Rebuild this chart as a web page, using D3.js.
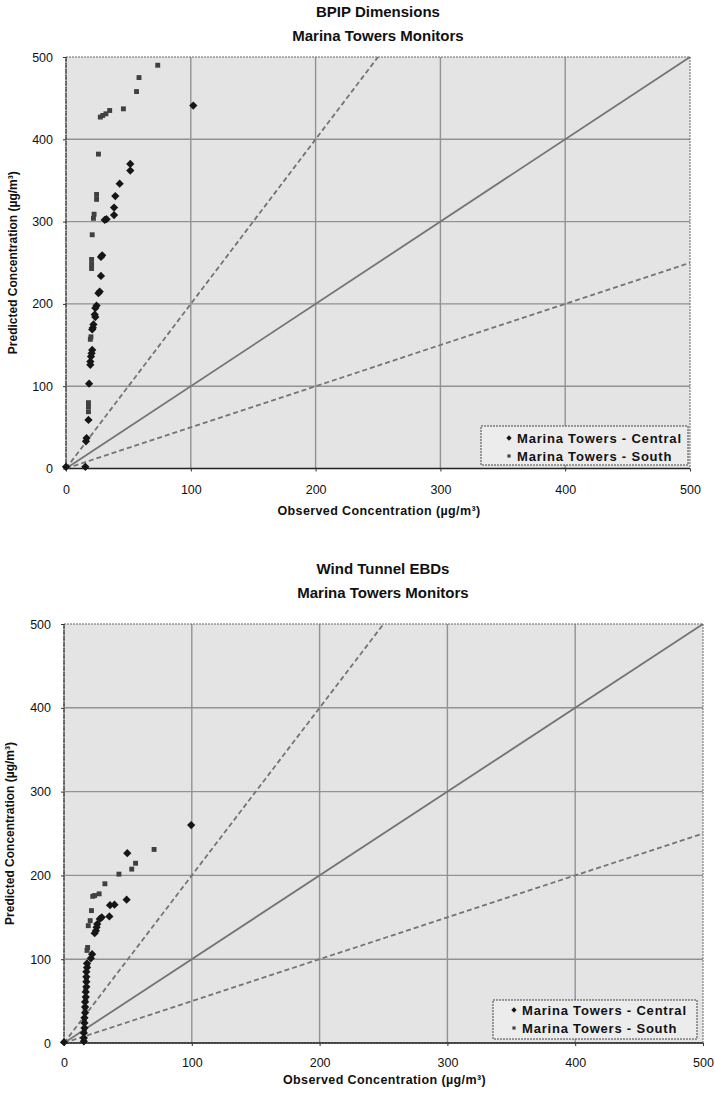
<!DOCTYPE html>
<html>
<head>
<meta charset="utf-8">
<script src="https://cdn.jsdelivr.net/npm/d3@7"></script>
<style>
  body { margin: 0; background: #fff; }
  svg { display: block; }
  text { font-family: "Liberation Sans", Arial, sans-serif; fill: #111; }
</style>
</head>
<body>
<svg id="chart" width="715" height="1093"></svg>
<script>
// Axis ticks shared by both panels (µg/m³)
const tickValues = [0, 100, 200, 300, 400, 500];
// Reference ratio lines: predicted = 2x, 1x and 0.5x observed
const ratioSlopes = [2, 1, 0.5];
const legendLabels = ["Marina Towers - Central", "Marina Towers - South"];

// BPIP dimensions: [observed, predicted]
const bpipCentral = [
  [102, 441], [51.5, 370], [51.5, 362], [43, 346], [39.5, 331], [38.5, 317], [38.5, 308],
  [31, 302], [32.5, 303], [29, 259], [28, 257], [28, 234], [27, 215], [26, 213],
  [24.5, 198], [23.5, 195], [23, 187], [23.5, 184], [22, 175], [21.5, 171], [21, 169],
  [21, 144], [20.5, 140], [20, 136], [19.5, 130], [19.5, 126], [18.5, 103], [18, 59],
  [16.5, 37], [16, 33], [15.5, 2], [0, 2]
];
const bpipSouth = [
  [73.5, 490], [58.5, 475], [56.5, 458], [46, 437], [35, 435], [32, 431], [29.5, 429],
  [27.5, 427], [26, 382], [24.5, 333], [24.5, 327], [22.5, 309], [22, 304], [21, 284],
  [20.5, 254], [20.5, 248], [20.5, 243], [20, 160], [19.5, 157], [18, 80], [18, 75], [18, 69]
];

// Wind tunnel EBDs: [observed, predicted]
const tunnelCentral = [
  [99.5, 260], [49.5, 226.5], [49, 171], [39.5, 165], [36, 164.5], [35.5, 151], [29.5, 150],
  [28, 148], [26, 142], [25.5, 138], [25, 134], [24, 131], [22, 106], [21, 101], [18, 95],
  [18, 90], [17.5, 85], [17.5, 79], [17.5, 73], [17.5, 67], [17, 61], [17, 55], [16.5, 49],
  [16.5, 43], [16.5, 36], [16, 30], [16, 24], [16, 18], [15.5, 12], [15.5, 6], [15.5, 2], [0, 1]
];
const tunnelSouth = [
  [70.5, 231], [56, 214.5], [53, 207.5], [43, 201.5], [32, 190], [27.5, 178], [24, 176],
  [22.5, 175], [21.5, 158], [20.5, 146], [19, 140], [18.5, 114], [18, 110.5], [18.5, 92],
  [17.5, 76], [17, 64], [17, 52], [16.5, 40], [16, 27], [16, 15], [15.5, 4]
];

const svg = d3.select("#chart");
// diamond = square turned by 45 degrees, so it is as wide as it is tall
const diamond = d3.symbol().type(d3.symbolSquare).size(34);
const square = d3.symbol().type(d3.symbolSquare).size(24);
const centralFill = "#161616";
const southFill = "#404040";

function drawPanel(p) {
  const x = d3.scaleLinear().domain([0, 500]).range([p.left, p.right]);
  const y = d3.scaleLinear().domain([0, 500]).range([p.bottom, p.top]);
  const g = svg.append("g");

  // titles
  p.title.forEach((t, i) => {
    g.append("text").attr("x", p.titleX).attr("y", p.titleY + i * 24)
      .attr("text-anchor", "middle").attr("font-size", 15).attr("font-weight", "bold").text(t);
  });

  // plot area
  g.append("rect").attr("x", p.left).attr("y", p.top)
    .attr("width", p.right - p.left).attr("height", p.bottom - p.top)
    .attr("fill", "#e4e4e4");

  // grid
  g.selectAll(".gx").data(tickValues.slice(1, -1)).join("line")
    .attr("x1", d => x(d)).attr("x2", d => x(d)).attr("y1", p.top).attr("y2", p.bottom)
    .attr("stroke", "#929292").attr("stroke-width", 1.4);
  g.selectAll(".gy").data(tickValues.slice(1, -1)).join("line")
    .attr("y1", d => y(d)).attr("y2", d => y(d)).attr("x1", p.left).attr("x2", p.right)
    .attr("stroke", "#929292").attr("stroke-width", 1.4);

  // border
  g.append("rect").attr("x", p.left).attr("y", p.top)
    .attr("width", p.right - p.left).attr("height", p.bottom - p.top)
    .attr("fill", "none").attr("stroke", "#666").attr("stroke-width", 1)
    .attr("stroke-dasharray", "2,1");
  g.append("line").attr("x1", p.left).attr("x2", p.right).attr("y1", p.bottom).attr("y2", p.bottom)
    .attr("stroke", "#222").attr("stroke-width", 1.3);
  g.append("line").attr("x1", p.left).attr("x2", p.left).attr("y1", p.top).attr("y2", p.bottom)
    .attr("stroke", "#333").attr("stroke-width", 1.2).attr("stroke-dasharray", "5,1");

  // ratio lines
  ratioSlopes.forEach(s => {
    const xe = Math.min(500, 500 / s);
    g.append("line").attr("x1", x(0)).attr("y1", y(0)).attr("x2", x(xe)).attr("y2", y(xe * s))
      .attr("stroke", "#747474").attr("stroke-width", 1.8)
      .attr("stroke-dasharray", s === 1 ? null : "5,3");
  });

  // axes
  const ax = g.append("g").attr("transform", `translate(0,${p.bottom})`)
    .call(d3.axisBottom(x).tickValues(tickValues).tickSize(3).tickPadding(p.xPad));
  const ay = g.append("g").attr("transform", `translate(${p.left},0)`)
    .call(d3.axisLeft(y).tickValues(tickValues).tickSize(3).tickPadding(10));
  [ax, ay].forEach(a => {
    a.select(".domain").remove();
    a.selectAll("line").attr("stroke", "#333");
    a.selectAll("text").attr("font-size", 12.5).attr("fill", "#111")
      .attr("font-family", "'Liberation Sans', Arial, sans-serif");
  });

  // axis titles
  g.append("text").attr("x", (p.left + p.right) / 2 + 1).attr("y", p.xTitleY)
    .attr("text-anchor", "middle").attr("font-size", 12.5).attr("font-weight", "bold")
    .attr("letter-spacing", 0.4)
    .text("Observed Concentration (µg/m³)");
  g.append("text").attr("transform", `translate(${p.yTitleX},${(p.top + p.bottom) / 2}) rotate(-90)`)
    .attr("text-anchor", "middle").attr("font-size", 12).attr("font-weight", "bold")
    .text("Predicted Concentration (µg/m³)");

  // points
  g.selectAll(".s").data(p.south).join("path")
    .attr("d", square).attr("transform", d => `translate(${x(d[0])},${y(d[1])})`)
    .attr("fill", southFill);
  g.selectAll(".c").data(p.central).join("path")
    .attr("d", diamond).attr("transform", d => `translate(${x(d[0])},${y(d[1])}) rotate(45)`)
    .attr("fill", centralFill);

  // legend
  const L = p.legend;
  g.append("rect").attr("x", L.x).attr("y", L.y).attr("width", L.w).attr("height", L.h)
    .attr("fill", "#ececec").attr("stroke", "#444").attr("stroke-width", 1)
    .attr("stroke-dasharray", "2,1");
  legendLabels.forEach((lab, i) => {
    const cy = L.y + L.dy + i * 18;
    g.append("path")
      .attr("d", d3.symbol().type(d3.symbolSquare).size(i === 0 ? 14 : 10))
      .attr("transform", `translate(${L.x + L.mx},${cy})` + (i === 0 ? " rotate(45)" : ""))
      .attr("fill", i === 0 ? centralFill : southFill);
    g.append("text").attr("x", L.x + L.mx + 8).attr("y", cy + 5)
      .attr("font-size", 13).attr("font-weight", "bold").attr("letter-spacing", 0.8).text(lab);
  });
}

drawPanel({
  title: ["BPIP Dimensions", "Marina Towers Monitors"], titleX: 378, titleY: 17,
  left: 66, right: 690, top: 57, bottom: 468.5, xPad: 14, xTitleY: 515, yTitleX: 17,
  central: bpipCentral, south: bpipSouth,
  legend: { x: 481, y: 426, w: 207, h: 39, mx: 28, dy: 12 }
});

drawPanel({
  title: ["Wind Tunnel EBDs", "Marina Towers Monitors"], titleX: 383, titleY: 574,
  left: 64, right: 703, top: 624, bottom: 1043, xPad: 12, xTitleY: 1084, yTitleX: 14,
  central: tunnelCentral, south: tunnelSouth,
  legend: { x: 493, y: 1000, w: 204, h: 39, mx: 21, dy: 10 }
});
</script>
</body>
</html>
